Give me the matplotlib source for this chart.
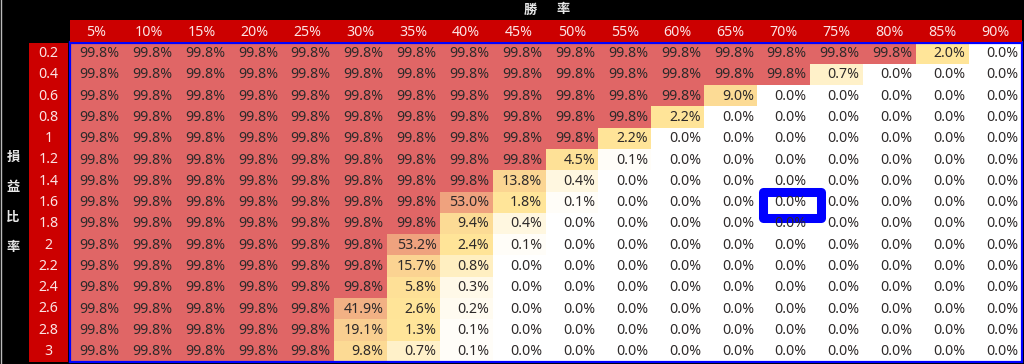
import numpy as np
import matplotlib
matplotlib.use("Agg")
import matplotlib.pyplot as plt
from matplotlib.colors import LinearSegmentedColormap, TwoSlopeNorm
from matplotlib.patches import Rectangle
from matplotlib.lines import Line2D

plt.rcParams['font.family'] = ['Noto Sans', 'Noto Sans CJK TC', 'DejaVu Sans']

# win rate columns and risk/reward rows
win_rates = ["5%", "10%", "15%", "20%", "25%", "30%", "35%", "40%", "45%",
             "50%", "55%", "60%", "65%", "70%", "75%", "80%", "85%", "90%"]
ratios = ["0.2", "0.4", "0.6", "0.8", "1", "1.2", "1.4", "1.6", "1.8",
          "2", "2.2", "2.4", "2.6", "2.8", "3"]

# how many leading cells are 99.8% in each row, then the values that follow
full_count = [16, 14, 12, 11, 10, 9, 8, 7, 7, 6, 6, 6, 5, 5, 5]
tails = [
    [2.0],
    [0.7],
    [9.0],
    [2.2],
    [2.2],
    [4.5, 0.1],
    [13.8, 0.4],
    [53.0, 1.8, 0.1],
    [9.4, 0.4],
    [53.2, 2.4, 0.1],
    [15.7, 0.8],
    [5.8, 0.3],
    [41.9, 2.6, 0.2],
    [19.1, 1.3, 0.1],
    [9.8, 0.7, 0.1],
]
highlight_row = "1.6"
highlight_col = "70%"

rows = []
for n, tail in zip(full_count, tails):
    r = [99.8] * n + tail
    r += [0.0] * (len(win_rates) - len(r))
    rows.append(r)
values = np.array(rows)

W, H = 1024, 364
fig = plt.figure(figsize=(W / 100, H / 100), dpi=100, facecolor="black")

def box(x0, y0, x1, y1):
    return [x0 / W, 1 - y1 / H, (x1 - x0) / W, (y1 - y0) / H]

header_red = "#cc0000"
head_txt = "#fbe4e4"
cell_txt = "#2e2a2a"
fs = 10.2

cmap = LinearSegmentedColormap.from_list("rg", ["#ffffff", "#ffe599", "#e06666"])
norm = TwoSlopeNorm(vmin=0, vcenter=1.3, vmax=99.8)

nr, nc = values.shape

# data grid
ax = fig.add_axes(box(69.5, 42.5, 1021.5, 362))
ax.pcolormesh(np.arange(nc + 1) - 0.5, np.arange(nr + 1) - 0.5, values,
              cmap=cmap, norm=norm)
ax.set_xlim(-0.5, nc - 0.5)
ax.set_ylim(nr - 0.5, -0.5)
ax.set_xticks([])
ax.set_yticks([])
for s in ax.spines.values():
    s.set_color("#0000ff")
    s.set_linewidth(1.6)
for i in range(nr):
    for j in range(nc):
        ax.text(j + 0.44, i + 0.02, f"{values[i, j]:.1f}%", ha="right",
                va="center", fontsize=fs, color=cell_txt)

hi = ratios.index(highlight_row)
hj = win_rates.index(highlight_col)
ax.add_patch(Rectangle((hj - 0.39, hi - 0.46), 1.1, 1.2,
                       fc="none", ec="#0000ff", lw=6.5, joinstyle="round",
                       clip_on=False))

# column header
axt = fig.add_axes(box(69.5, 20, 1021.5, 42))
axt.set_facecolor(header_red)
axt.set_xlim(-0.5, nc - 0.5)
axt.set_ylim(0, 1)
axt.set_xticks([])
axt.set_yticks([])
for s in axt.spines.values():
    s.set_visible(False)
for j, lab in enumerate(win_rates):
    axt.text(j, 0.45, lab, ha="center", va="center", fontsize=fs, color=head_txt)

# row header
axl = fig.add_axes(box(29, 43, 68, 362))
axl.set_facecolor(header_red)
axl.set_xlim(0, 1)
axl.set_ylim(nr - 0.5, -0.5)
axl.set_xticks([])
axl.set_yticks([])
for s in axl.spines.values():
    s.set_visible(False)
for i, lab in enumerate(ratios):
    axl.text(0.5, i, lab, ha="center", va="center", fontsize=fs, color=head_txt)

# axis titles
for k, ch in enumerate("勝率"):
    fig.text((530 + 33 * k) / W, 1 - 9.5 / H, ch, ha="center", va="center",
             fontsize=9.5, color="#e8e8e8", fontweight="bold",
             family=["Noto Sans CJK TC", "DejaVu Sans"])
for k, ch in enumerate("損益比率"):
    fig.text(13 / W, 1 - (157 + 30 * k) / H, ch, ha="center", va="center",
             fontsize=9.5, color="#e8e8e8", fontweight="bold",
             family=["Noto Sans CJK TC", "DejaVu Sans"])

fig.add_artist(Line2D([0.6 / W, 0.6 / W], [0, 1], color="#bbbbbb", lw=1))

fig.savefig("out.png", dpi=100, facecolor="black")
